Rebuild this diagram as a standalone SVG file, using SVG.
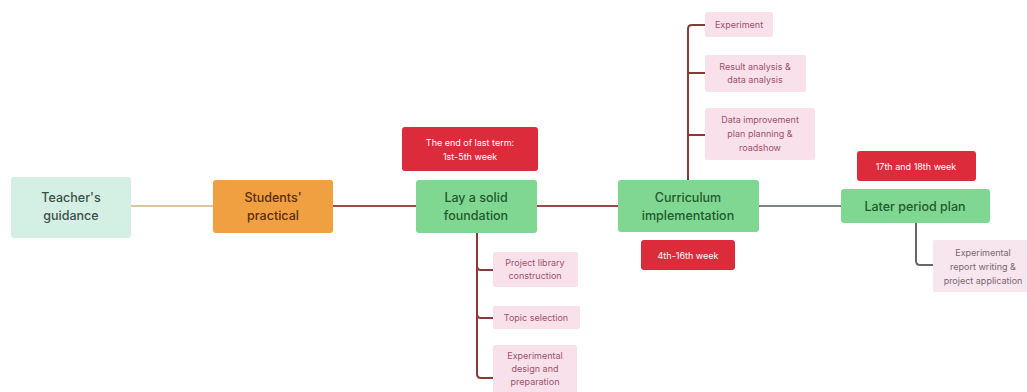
<svg xmlns="http://www.w3.org/2000/svg" width="1027" height="392" viewBox="0 0 1027 392">
<style>
.main{font-family:Inter,"Liberation Sans",sans-serif;font-size:12.5px;font-weight:500;fill:#1f5a2c;text-anchor:middle}
.red rect{fill:#dc2b3a}
.red text{font-family:Inter,"Liberation Sans",sans-serif;font-size:9px;fill:#ffffff;text-anchor:middle}
.child rect{fill:#f8e1ea}
.child text{font-family:Inter,"Liberation Sans",sans-serif;font-size:9px;fill:#a0506a;text-anchor:middle}
.green rect{fill:#7fd791}
.conn{fill:none;stroke-width:2}
</style>
<rect width="1027" height="392" fill="#ffffff"/>
<g id="connectors">
<path class="conn" d="M131 206H213" stroke="#dcc69e"/>
<path class="conn" d="M333 206H416" stroke="#a04a4a"/>
<path class="conn" d="M537 206H618" stroke="#9c4848"/>
<path class="conn" d="M759 206H841" stroke="#7a8680"/>
<path class="conn" d="M477 233V374Q477 378 481 378H493M477 266Q477 270 481 270H493M477 314Q477 318 481 318H493" stroke="#8a3838" stroke-width="1.5"/>
<path class="conn" d="M688 180V29Q688 25 692 25H705M688 73H705M688 135H705" stroke="#8a3838" stroke-width="1.5"/>
<path class="conn" d="M916 223V261Q916 265 920 265H933" stroke="#666666" stroke-width="1.5"/>
</g>
<g id="teachers-guidance"><rect x="11" y="177" width="120" height="61" rx="3" fill="#d4efe3"/><text class="main" x="71" y="202" style="fill:#3d5048">Teacher's</text><text class="main" x="71" y="220" style="fill:#3d5048">guidance</text></g>
<g id="students-practical"><rect x="213" y="180" width="120" height="53" rx="3" fill="#f0a040"/><text class="main" x="273" y="202" style="fill:#5a2d0a">Students'</text><text class="main" x="273" y="220" style="fill:#5a2d0a">practical</text></g>
<g id="lay-foundation" class="green"><rect x="416" y="180" width="121" height="53" rx="3"/><text class="main" x="476" y="202">Lay a solid</text><text class="main" x="476" y="220">foundation</text></g>
<g id="label-last-term" class="red"><rect x="402" y="127" width="136" height="44" rx="3"/><text x="470" y="146">The end of last term:</text><text x="470" y="160">1st-5th week</text></g>
<g id="curriculum" class="green"><rect x="618" y="180" width="141" height="52" rx="3"/><text class="main" x="688" y="202">Curriculum</text><text class="main" x="688" y="220">implementation</text></g>
<g id="label-4-16" class="red"><rect x="641" y="240" width="94" height="30" rx="3"/><text x="688" y="259">4th-16th week</text></g>
<g id="later-plan" class="green"><rect x="841" y="189" width="149" height="34" rx="3"/><text class="main" x="915" y="211">Later period plan</text></g>
<g id="label-17-18" class="red"><rect x="857" y="151" width="119" height="30" rx="3"/><text x="916" y="170">17th and 18th week</text></g>
<g id="project-library" class="child"><rect x="493" y="252" width="85" height="35" rx="2"/><text x="535" y="266">Project library</text><text x="535" y="279">construction</text></g>
<g id="topic-selection" class="child"><rect x="493" y="306" width="87" height="23" rx="2"/><text x="536" y="321">Topic selection</text></g>
<g id="experimental-design" class="child"><rect x="493" y="345" width="84" height="50" rx="2"/><text x="535" y="359">Experimental</text><text x="535" y="372">design and</text><text x="535" y="385">preparation</text></g>
<g id="experiment" class="child"><rect x="705" y="12" width="68" height="25" rx="2"/><text x="739" y="28">Experiment</text></g>
<g id="result-analysis" class="child"><rect x="705" y="55" width="101" height="37" rx="2"/><text x="755" y="70">Result analysis &amp;</text><text x="755" y="83">data analysis</text></g>
<g id="data-improvement" class="child"><rect x="705" y="108" width="110" height="52" rx="2"/><text x="760" y="123">Data improvement</text><text x="760" y="137">plan planning &amp;</text><text x="760" y="151">roadshow</text></g>
<g id="report-writing" class="child"><rect x="933" y="240" width="100" height="52" rx="2" style="fill:#f7e6ee"/><text x="983" y="256" style="fill:#7a6670">Experimental</text><text x="983" y="270" style="fill:#7a6670">report writing &amp;</text><text x="983" y="284" style="fill:#7a6670">project application</text></g>
</svg>
